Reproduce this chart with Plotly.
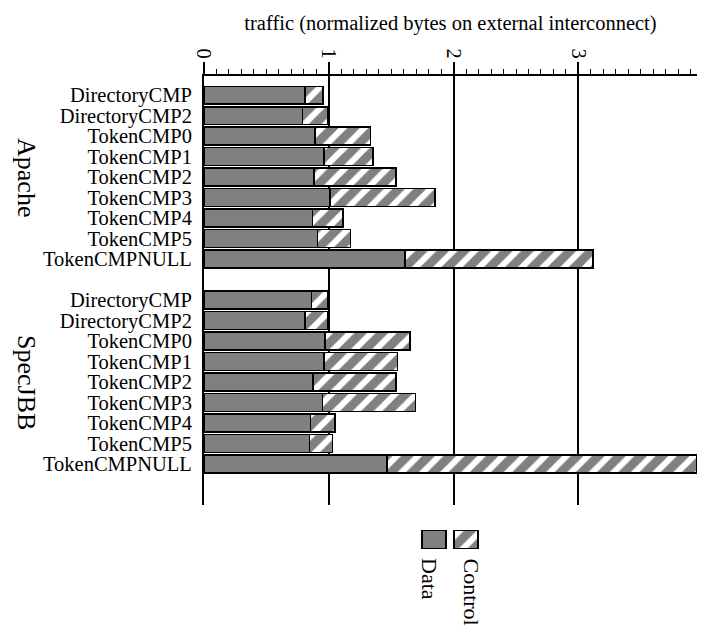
import plotly.graph_objects as go

configs = ["DirectoryCMP", "DirectoryCMP2", "TokenCMP0", "TokenCMP1", "TokenCMP2",
           "TokenCMP3", "TokenCMP4", "TokenCMP5", "TokenCMPNULL"]
groups = ["Apache", "SpecJBB"]

apache_data = [0.81, 0.79, 0.89, 0.96, 0.88, 1.01, 0.87, 0.91, 1.61]
apache_total = [0.955, 0.995, 1.335, 1.355, 1.54, 1.85, 1.115, 1.175, 3.115]
specjbb_data = [0.86, 0.81, 0.97, 0.96, 0.875, 0.95, 0.855, 0.845, 1.465]
specjbb_total = [0.995, 0.995, 1.65, 1.55, 1.54, 1.695, 1.05, 1.03, 3.95]

legend_labels = ["Data", "Control"]

FONT = "Liberation Serif, Times New Roman, serif"
GRAY = "#808080"

# y positions: group 0 at 0..8, group 1 at 10..18
pos = list(range(0, 9)) + list(range(10, 19))
labels = configs + configs
data_vals = apache_data + specjbb_data
ctrl_vals = [t - d for t, d in zip(apache_total + specjbb_total, apache_data + specjbb_data)]

PATTERN = dict(shape="/", fgcolor="white", fgopacity=1, bgcolor=GRAY,
               fillmode="overlay", size=15, solidity=0.4)

fig = go.Figure()
fig.add_trace(go.Bar(
    y=pos, x=data_vals, orientation="h", width=0.86,
    marker=dict(color=GRAY, line=dict(color="black", width=1.5)),
    showlegend=False, name="Data"))
fig.add_trace(go.Bar(
    y=pos, x=ctrl_vals, orientation="h", width=0.86,
    marker=dict(color=GRAY, line=dict(color="black", width=1.5), pattern=PATTERN),
    showlegend=False, name="Control"))

# legend swatches on a hidden secondary axis
fig.add_trace(go.Bar(
    x=[legend_labels[0]], y=[1], width=0.75, xaxis="x2", yaxis="y2",
    marker=dict(color=GRAY, line=dict(color="black", width=1.5)), showlegend=False))
fig.add_trace(go.Bar(
    x=[legend_labels[1]], y=[1], width=0.75, xaxis="x2", yaxis="y2",
    marker=dict(color=GRAY, line=dict(color="black", width=1.5), pattern=PATTERN),
    showlegend=False))

OFF = 8  # page body margin
W, H = 708 - OFF, 637 - OFF
L, T, B = 204 - OFF, 76 - OFF, 0
R = W - (697 - OFF)
plot_w = W - L - R
plot_h = H - T - B
def py(p):
    return (H - B - (p - OFF)) / plot_h
def px(p):
    return (p - OFF - L) / plot_w

fig.update_layout(
    width=W, height=H, barmode="stack",
    margin=dict(l=L, r=R, t=T, b=B, autoexpand=False),
    paper_bgcolor="white", plot_bgcolor="white",
    font=dict(family=FONT, size=20.5, color="black"),
    title=dict(text="traffic (normalized bytes on external interconnect)",
               x=0.5, xref="paper", xanchor="center",
               y=1 - (23 - OFF) / H, yref="container", yanchor="middle",
               font=dict(family=FONT, size=20.5, color="black")),
    xaxis=dict(side="top", range=[0, 3.95], dtick=1, tick0=0, tickangle=90,
               showline=True, linecolor="black", linewidth=2, automargin=False,
               ticks="outside", ticklen=12, tickwidth=1.5, tickcolor="black",
               showgrid=True, gridcolor="black", gridwidth=1.5, zeroline=False,
               minor=dict(ticks="outside", ticklen=5, tickwidth=1.2, dtick=0.1,
                          tickcolor="black", showgrid=False),
               ticklabelstandoff=-4,
               tickfont=dict(family=FONT, size=20.5)),
    yaxis=dict(range=[20.0, -0.93], tickmode="array", tickvals=pos, ticktext=labels,
               showline=True, linecolor="black", linewidth=2, ticks="",
               showgrid=False, zeroline=False, domain=[py(505), 1], automargin=False,
               ticklabelstandoff=6,
               tickfont=dict(family=FONT, size=20.5)),
    xaxis2=dict(domain=[px(418), px(482)], range=[-0.5, 1.5],
                anchor="y2", visible=False, type="category"),
    yaxis2=dict(domain=[py(549), py(530)], range=[0, 1], anchor="x2", visible=False),
)

fig.add_annotation(text=groups[0], xref="paper", x=px(27), yref="y", y=4,
                   textangle=90, showarrow=False, xanchor="center", yanchor="middle",
                   font=dict(family=FONT, size=26))
fig.add_annotation(text=groups[1], xref="paper", x=px(27), yref="y", y=14,
                   textangle=90, showarrow=False, xanchor="center", yanchor="middle",
                   font=dict(family=FONT, size=26))
fig.add_annotation(text=legend_labels[0], xref="paper", x=px(430),
                   yref="paper", y=py(556), textangle=90, showarrow=False,
                   xanchor="center", yanchor="top", font=dict(family=FONT, size=22))
fig.add_annotation(text=legend_labels[1], xref="paper", x=px(471),
                   yref="paper", y=py(556), textangle=90, showarrow=False,
                   xanchor="center", yanchor="top", font=dict(family=FONT, size=22))

fig.write_html("out.html")
